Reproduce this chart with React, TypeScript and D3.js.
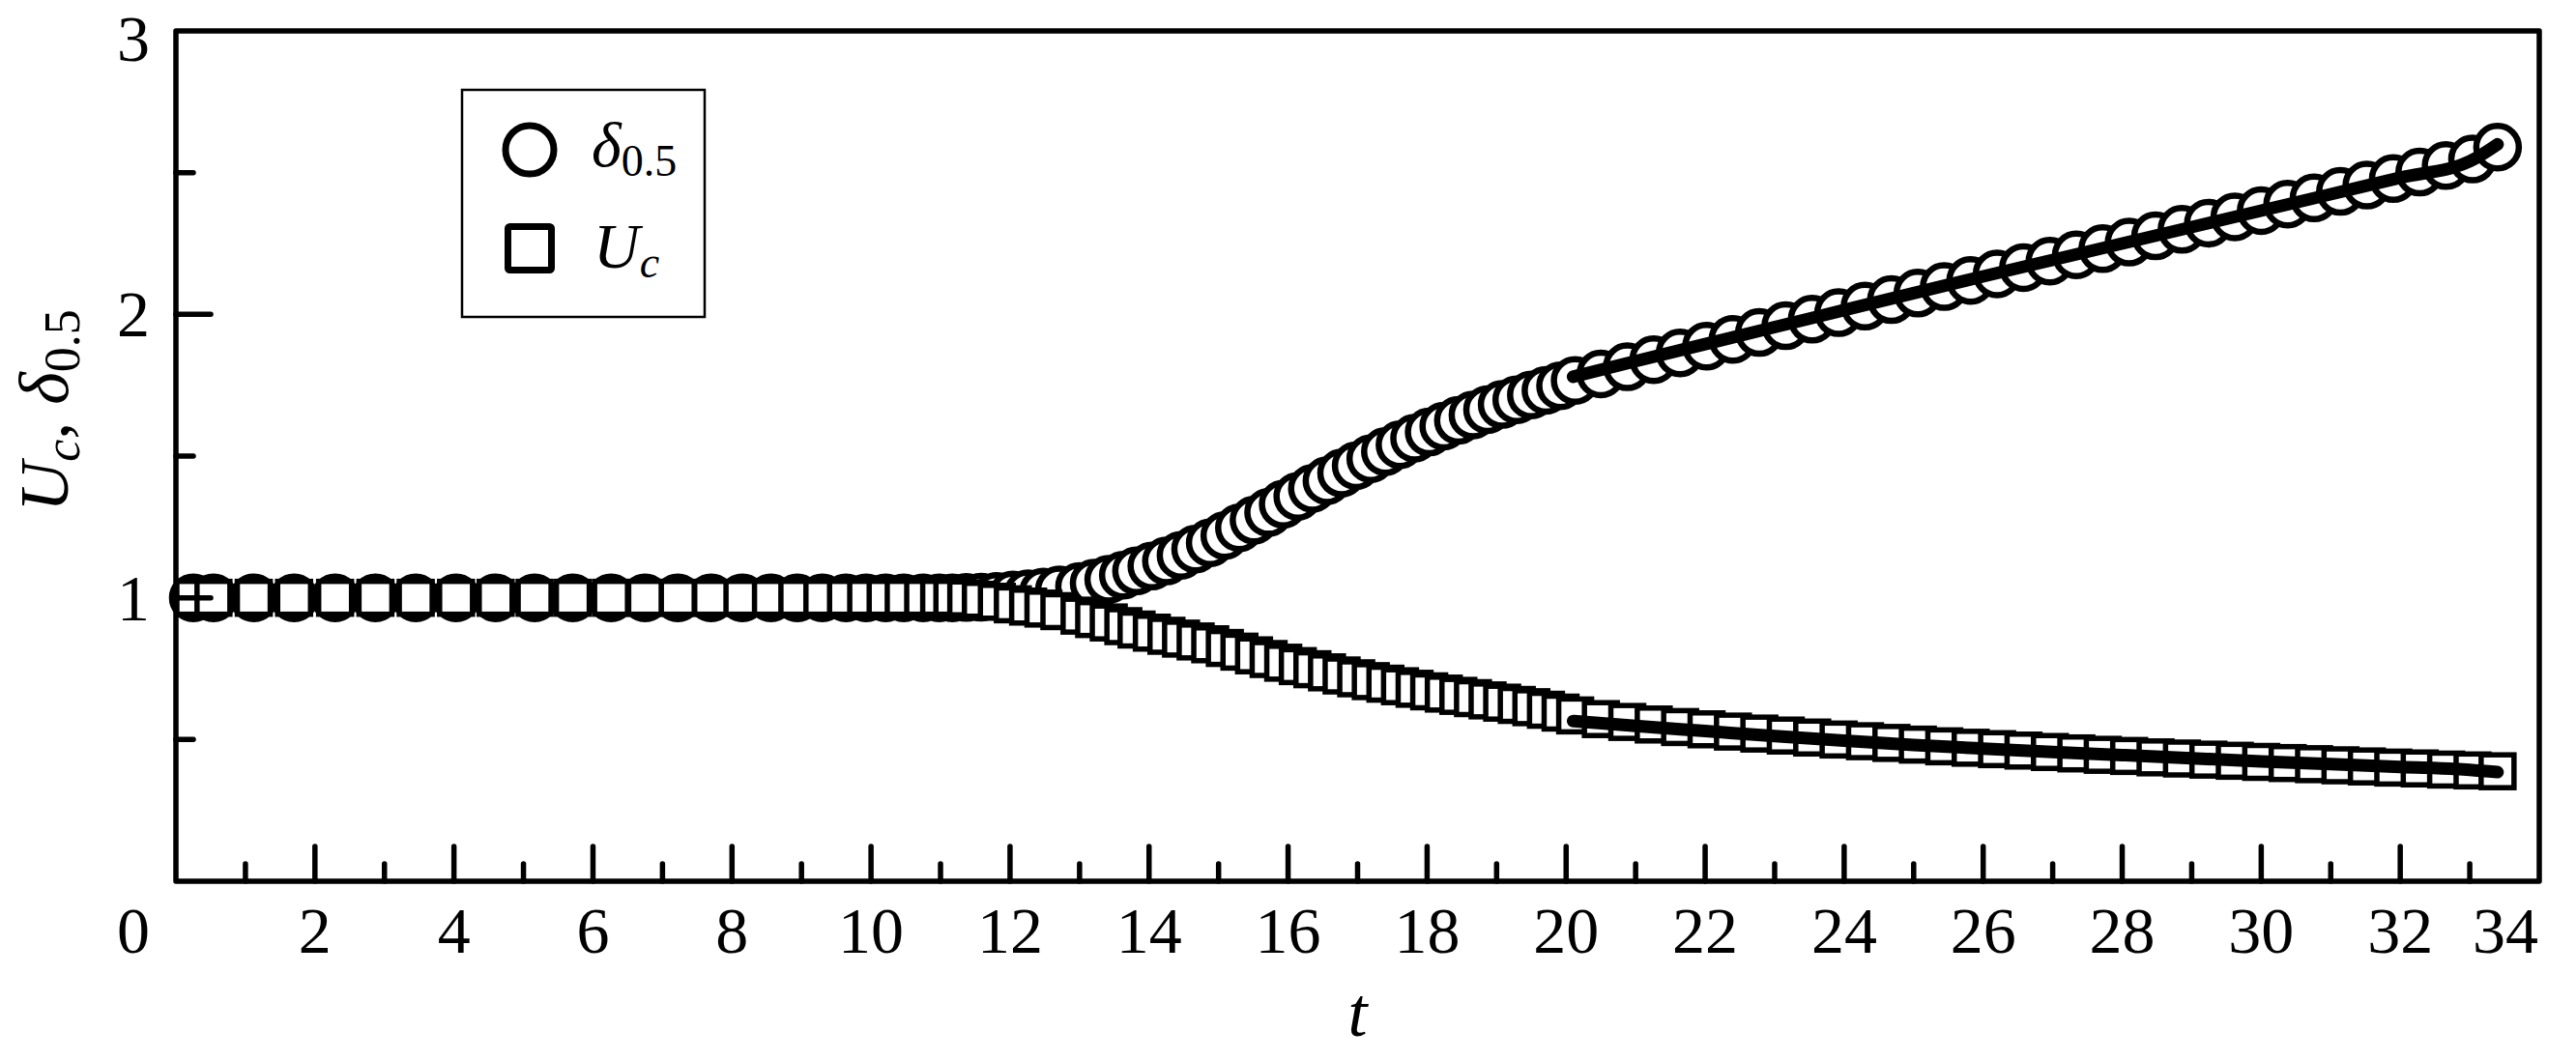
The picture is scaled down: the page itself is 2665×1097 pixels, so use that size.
import React, { useEffect, useRef } from 'react';
import * as d3 from 'd3';

// sample times shared by both series
const times = [
  0.25, 0.54, 1.12, 1.70, 2.29, 2.87, 3.45, 4.03, 4.60, 5.16, 5.71, 6.26, 6.75,
  7.22, 7.70, 8.15, 8.56, 8.94, 9.30, 9.64, 9.93, 10.21, 10.47, 10.75, 10.98,
  11.17, 11.37, 11.58, 11.81, 12.04, 12.26, 12.48, 12.71, 13.00, 13.21, 13.42,
  13.63, 13.82, 14.04, 14.25, 14.46, 14.67, 14.88, 15.09, 15.30, 15.51, 15.72,
  15.93, 16.14, 16.35, 16.56, 16.77, 16.98, 17.19, 17.40, 17.61, 17.82, 18.03,
  18.24, 18.45, 18.66, 18.87, 19.08, 19.29, 19.50, 19.71, 19.92, 20.13,
  20.50, 20.88, 21.26, 21.64, 22.02, 22.40, 22.78, 23.16, 23.54, 23.92, 24.30,
  24.68, 25.06, 25.44, 25.82, 26.20, 26.58, 26.96, 27.34, 27.72, 28.10, 28.48,
  28.86, 29.24, 29.62, 30.00, 30.38, 30.76, 31.14, 31.52, 31.90, 32.28, 32.66,
  33.04, 33.40,
];

// delta_0.5 (circles)
const delta = [
  1, 1, 1, 1, 1, 1, 1, 1, 1, 1, 1, 1, 1,
  1, 1, 1, 1, 1, 1, 1, 1, 1, 1, 1, 1,
  1, 1.001, 1.002, 1.005, 1.01, 1.014, 1.02, 1.028, 1.04, 1.052, 1.065,
  1.08, 1.095, 1.112, 1.13, 1.15, 1.172, 1.194, 1.22, 1.247, 1.274, 1.301,
  1.33, 1.358, 1.386, 1.413, 1.44, 1.466, 1.491, 1.516, 1.54, 1.563, 1.585,
  1.606, 1.626, 1.645, 1.664, 1.682, 1.699, 1.716, 1.732, 1.748, 1.767,
  1.79, 1.815, 1.84, 1.864, 1.888, 1.912, 1.936, 1.96, 1.983, 2.006, 2.029,
  2.052, 2.075, 2.098, 2.12, 2.143, 2.165, 2.188, 2.21, 2.232, 2.255, 2.277,
  2.3, 2.322, 2.344, 2.366, 2.389, 2.411, 2.434, 2.456, 2.479, 2.502, 2.525,
  2.548, 2.59,
];

// U_c (squares)
const uc = [
  1, 1, 1, 1, 1, 1, 1, 1, 1, 1, 1, 1, 1,
  1, 1, 1, 1, 1, 1, 1, 1, 1, 1, 1, 1,
  1, 0.998, 0.993, 0.986, 0.977, 0.969, 0.962, 0.953, 0.937, 0.925, 0.913,
  0.9, 0.888, 0.877, 0.866, 0.856, 0.846, 0.836, 0.823, 0.81, 0.797, 0.784,
  0.771, 0.759, 0.748, 0.737, 0.726, 0.716, 0.706, 0.697, 0.688, 0.679, 0.67,
  0.662, 0.654, 0.646, 0.638, 0.63, 0.622, 0.614, 0.605, 0.595, 0.585,
  0.572, 0.562, 0.553, 0.544, 0.536, 0.528, 0.521, 0.514, 0.507, 0.5, 0.494,
  0.488, 0.482, 0.476, 0.471, 0.466, 0.461, 0.456, 0.451, 0.446, 0.442, 0.437,
  0.433, 0.429, 0.425, 0.421, 0.417, 0.413, 0.409, 0.405, 0.401, 0.398, 0.394,
  0.391, 0.388,
];

// solid fitted curves for t >= 20
const fitTimes = [20.1, 21, 22, 23, 24, 25, 26, 27, 28, 29, 30, 31, 32, 33, 33.4];
const deltaFit = [1.78, 1.835, 1.895, 1.955, 2.015, 2.075, 2.134, 2.192, 2.25, 2.308, 2.366, 2.424, 2.482, 2.54, 2.6];
const ucFit = [0.565, 0.548, 0.53, 0.512, 0.496, 0.481, 0.468, 0.456, 0.445, 0.434, 0.423, 0.413, 0.403, 0.393, 0.385];

const xMajor = [2, 4, 6, 8, 10, 12, 14, 16, 18, 20, 22, 24, 26, 28, 30, 32];
const xMinor = [1, 3, 5, 7, 9, 11, 13, 15, 17, 19, 21, 23, 25, 27, 29, 31, 33];
const xLabels = [0, 2, 4, 6, 8, 10, 12, 14, 16, 18, 20, 22, 24, 26, 28, 30, 32, 34];
const yMajor = [1, 2];
const yMinor = [0.5, 1.5, 2.5];
const yLabels = [1, 2, 3];

const FONT = "'Liberation Serif', 'Times New Roman', serif";

const App = () => {
  const svgRef = useRef(null);

  useEffect(() => {
    const W = 2665;
    const H = 1097;
    const left = 182, right = 2627, top = 32, bottom = 912;

    const x = d3.scaleLinear().domain([0, 34]).range([left, right]);
    const y = d3.scaleLinear().domain([0, 3]).range([bottom, top]);

    const svg = d3.select(svgRef.current);
    svg.selectAll('*').remove();
    svg.attr('width', W).attr('height', H);

    svg.append('rect').attr('width', W).attr('height', H).attr('fill', '#fff');

    const pts = times.map((t, i) => ({ t, d: delta[i], u: uc[i] }));

    // circles first, squares over them
    svg.append('g')
      .selectAll('circle')
      .data(pts)
      .enter()
      .append('circle')
      .attr('cx', (p) => x(p.t))
      .attr('cy', (p) => y(p.d))
      .attr('r', 22)
      .attr('fill', '#fff')
      .attr('stroke', '#000')
      .attr('stroke-width', 6.5);

    const side = 34;
    svg.append('g')
      .selectAll('rect')
      .data(pts)
      .enter()
      .append('rect')
      .attr('x', (p) => x(p.t) - side / 2)
      .attr('y', (p) => y(p.u) - side / 2)
      .attr('width', side)
      .attr('height', side)
      .attr('fill', '#fff')
      .attr('stroke', '#000')
      .attr('stroke-width', 5.5);

    const line = d3.line()
      .x((d) => x(d[0]))
      .y((d) => y(d[1]))
      .curve(d3.curveMonotoneX);

    [deltaFit, ucFit].forEach((vals) => {
      svg.append('path')
        .datum(fitTimes.map((t, i) => [t, vals[i]]))
        .attr('d', line)
        .attr('fill', 'none')
        .attr('stroke', '#000')
        .attr('stroke-width', 13)
        .attr('stroke-linecap', 'round');
    });

    // frame
    svg.append('rect')
      .attr('x', left).attr('y', top)
      .attr('width', right - left).attr('height', bottom - top)
      .attr('fill', 'none')
      .attr('stroke', '#000')
      .attr('stroke-width', 5.5)
      .attr('stroke-linejoin', 'round');

    const ticks = svg.append('g')
      .attr('stroke', '#000')
      .attr('stroke-width', 5.5)
      .attr('stroke-linecap', 'round');

    xMajor.forEach((v) => {
      ticks.append('line').attr('x1', x(v)).attr('x2', x(v)).attr('y1', bottom).attr('y2', bottom - 36);
    });
    xMinor.forEach((v) => {
      ticks.append('line').attr('x1', x(v)).attr('x2', x(v)).attr('y1', bottom).attr('y2', bottom - 18);
    });
    yMajor.forEach((v) => {
      ticks.append('line').attr('x1', left).attr('x2', left + 36).attr('y1', y(v)).attr('y2', y(v));
    });
    yMinor.forEach((v) => {
      ticks.append('line').attr('x1', left).attr('x2', left + 18).attr('y1', y(v)).attr('y2', y(v));
    });

    // tick labels
    svg.append('g')
      .selectAll('text')
      .data(xLabels)
      .enter()
      .append('text')
      .attr('x', (v) => (v === 0 ? 138 : v === 34 ? 2592 : x(v)))
      .attr('y', 986)
      .attr('text-anchor', 'middle')
      .attr('font-family', FONT)
      .attr('font-size', 68)
      .text((v) => v);

    svg.append('g')
      .selectAll('text')
      .data(yLabels)
      .enter()
      .append('text')
      .attr('x', 155)
      .attr('y', (v) => (v === 3 ? 63 : y(v) + 23))
      .attr('text-anchor', 'end')
      .attr('font-family', FONT)
      .attr('font-size', 68)
      .text((v) => v);

    // axis titles
    svg.append('text')
      .attr('x', (left + right) / 2)
      .attr('y', 1072)
      .attr('text-anchor', 'middle')
      .attr('font-family', FONT)
      .attr('font-style', 'italic')
      .attr('font-size', 72)
      .text('t');

    const yTitle = svg.append('text')
      .attr('transform', 'translate(70,425) rotate(-90)')
      .attr('text-anchor', 'middle')
      .attr('font-family', FONT)
      .attr('font-size', 72);
    yTitle.append('tspan').attr('font-style', 'italic').text('U');
    yTitle.append('tspan').attr('font-style', 'italic').attr('font-size', 52).attr('dy', 12).text('c');
    yTitle.append('tspan').attr('dy', -12).text(', ');
    yTitle.append('tspan').attr('font-style', 'italic').text('δ');
    yTitle.append('tspan').attr('font-size', 52).attr('dy', 12).text('0.5');

    // legend
    const lg = svg.append('g');
    lg.append('rect')
      .attr('x', 478).attr('y', 93).attr('width', 251).attr('height', 235)
      .attr('fill', '#fff').attr('stroke', '#000').attr('stroke-width', 2.5);
    lg.append('circle')
      .attr('cx', 548).attr('cy', 155).attr('r', 25)
      .attr('fill', '#fff').attr('stroke', '#000').attr('stroke-width', 7);
    lg.append('rect')
      .attr('x', 548 - 22.5).attr('y', 257 - 22.5).attr('width', 45).attr('height', 45)
      .attr('fill', '#fff').attr('stroke', '#000').attr('stroke-width', 7)
      .attr('rx', 2);
    const t1 = lg.append('text')
      .attr('x', 612).attr('y', 172)
      .attr('font-family', FONT).attr('font-size', 66);
    t1.append('tspan').attr('font-style', 'italic').text('δ');
    t1.append('tspan').attr('font-size', 46).attr('dy', 10).text('0.5');
    const t2 = lg.append('text')
      .attr('x', 614).attr('y', 277)
      .attr('font-family', FONT).attr('font-size', 66);
    t2.append('tspan').attr('font-style', 'italic').text('U');
    t2.append('tspan').attr('font-style', 'italic').attr('font-size', 46).attr('dy', 10).text('c');
  }, []);

  return (
    <svg ref={svgRef} style={{ position: 'absolute', left: 0, top: 0 }}></svg>
  );
};

export default App;
